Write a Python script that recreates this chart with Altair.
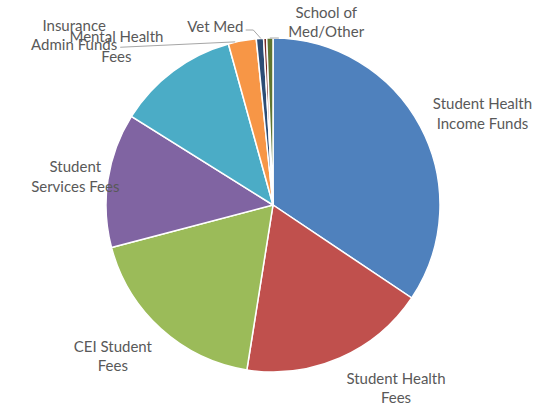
import math
import altair as alt
import pandas as pd

categories = [
    "Student Health Income Funds", "Student Health Fees", "CEI Student Fees",
    "Student Services Fees", "Mental Health Fees", "Insurance Admin Funds",
    "Vet Med", "Unlabeled", "School of Med/Other",
]
labels = [
    "Student Health\nIncome Funds", "Student Health\nFees", "CEI Student\nFees",
    "Student\nServices Fees", "Mental Health\nFees", "Insurance\nAdmin Funds",
    "Vet Med", "", "School of\nMed/Other",
]
shares = [34.4, 18.1, 18.4, 13.0, 11.8, 2.7, 0.7, 0.3, 0.6]
colors = ["#4F81BD", "#C0504D", "#9BBB59", "#8064A2", "#4BACC6",
          "#F79646", "#2C4D75", "#772C2A", "#5F7530"]

TOTAL = sum(shares)
W, H = 522, 406
R = 167
CX, CY = W / 2, H / 2

df = pd.DataFrame({
    "category": categories,
    "label": labels,
    "share": shares,
    "order": list(range(len(categories))),
})

theta_scale = alt.Scale(domain=[0, TOTAL], range=[0, 2 * math.pi])

base = (
    alt.Chart(df)
    .transform_window(end="sum(share)", sort=[alt.SortField("order")], frame=[None, 0])
    .transform_calculate(start="datum.end - datum.share")
    .transform_calculate(mid="(datum.start + datum.end) / 2")
    .transform_calculate(ang=f"datum.mid / {TOTAL} * 2 * PI")
)

arcs = base.mark_arc(radius=R, stroke="white", strokeWidth=1.5).encode(
    theta=alt.Theta("start:Q", scale=theta_scale, stack=None),
    theta2="end:Q",
    color=alt.Color("category:N", scale=alt.Scale(domain=categories, range=colors), legend=None),
)

# label placement (mark style): offsets from the point at radius 200 on each slice's mid-angle
placements = {
    "Student Health Income Funds": (33, -6.5),
    "Student Health Fees": (43, -9.5),
    "CEI Student Fees": (-26, -6.5),
    "Student Services Fees": (0, -7.5),
    "Mental Health Fees": (-37, -7.5),
    "Insurance Admin Funds": (-162, 17.5),
    "Vet Med": (-42, 21),
    "School of Med/Other": (57, 7.5),
}

texts = []
for cat, (dx, dy) in placements.items():
    texts.append(
        base.transform_filter(alt.datum.category == cat)
        .mark_text(radius=200, dx=dx, dy=dy, font="Lato", fontSize=15,
                   color="#595959", lineBreak="\n", lineHeight=19.5,
                   align="center", baseline="middle")
        .encode(theta=alt.Theta("mid:Q", scale=theta_scale, stack=None), text="label:N")
    )

# leader lines: segments given as offsets from the slice's outer mid-point
leaders = [
    ("Insurance Admin Funds", (-7, 1), (-122, 6.4)),
    ("Vet Med", (1, 0), (-6.6, -8.5)),
    ("Vet Med", (-6.6, -8.5), (-14.2, -8.5)),
    ("School of Med/Other", (0, 0), (9, 0)),
]
rules = []
for cat, (ax, ay), (bx, by) in leaders:
    rules.append(
        base.transform_filter(alt.datum.category == cat)
        .transform_calculate(
            x1=f"{CX} + {R} * sin(datum.ang) + ({ax})",
            y1=f"{CY} - {R} * cos(datum.ang) + ({ay})",
            x2=f"{CX} + {R} * sin(datum.ang) + ({bx})",
            y2=f"{CY} - {R} * cos(datum.ang) + ({by})",
        )
        .mark_rule(color="#A6A6A6", strokeWidth=1)
        .encode(
            x=alt.X("x1:Q", scale=None, axis=None),
            y=alt.Y("y1:Q", scale=None, axis=None),
            x2="x2:Q",
            y2="y2:Q",
        )
    )

chart = (
    alt.layer(arcs, *rules, *texts)
    .properties(width=W, height=H, autosize="none",
                padding={"left": 12, "top": 2, "right": 0, "bottom": 0},
                background="white")
    .configure_view(stroke=None)
)

chart.save("out.html", embed_options={"renderer": "svg", "actions": False})
